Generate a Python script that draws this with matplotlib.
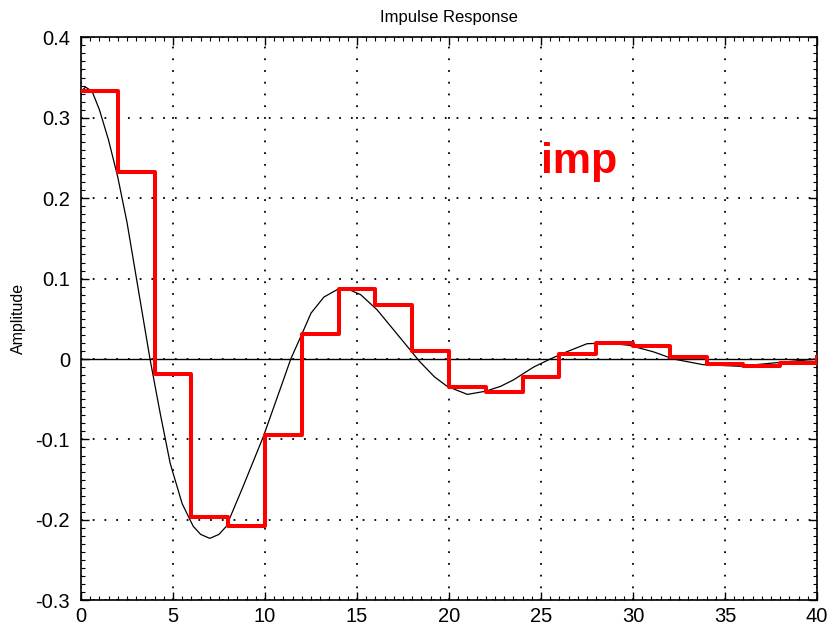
import numpy as np
import matplotlib
matplotlib.use('Agg')
import matplotlib.pyplot as plt
from matplotlib.ticker import MultipleLocator

plt.rcParams['font.family'] = ['Liberation Sans', 'DejaVu Sans']

# continuous response (black curve)
t_cont = [0, 0.25, 0.6, 1.0, 1.5, 2.0, 2.5, 3.0, 3.5, 3.75, 4.3, 4.85, 5.5, 6.1, 6.5,
          7.0, 7.5, 7.9, 8.8, 9.9, 10.8, 11.4, 12.1, 12.5, 13.2, 13.9, 14.4, 15.2,
          16.1, 17.0, 17.9, 18.4, 19.2, 19.9, 21.0, 22.0, 22.8, 23.5, 24.6, 25.5,
          26.4, 27.5, 28.6, 29.8, 31.1, 32.2, 33.8, 35.8, 37.6, 40]
y_cont = [0.333, 0.338, 0.333, 0.310, 0.272, 0.226, 0.170, 0.102, 0.034, 0.0,
          -0.067, -0.130, -0.180, -0.208, -0.218, -0.223, -0.218, -0.208, -0.159,
          -0.097, -0.039, 0.0, 0.036, 0.057, 0.077, 0.086, 0.088, 0.080, 0.061,
          0.036, 0.011, -0.003, -0.022, -0.034, -0.044, -0.040, -0.034, -0.026,
          -0.010, 0.0, 0.009, 0.019, 0.020, 0.017, 0.009, 0.0, -0.007, -0.009,
          -0.005, 0.0]

# sampled response (red staircase), sample period 2
t_samp = list(range(0, 42, 2))
y_samp = [0.333, 0.232, -0.019, -0.197, -0.207, -0.095, 0.031, 0.087, 0.067, 0.010,
          -0.035, -0.041, -0.022, 0.006, 0.020, 0.016, 0.003, -0.006, -0.009, -0.005,
          0.002]

x_ticks = [0, 5, 10, 15, 20, 25, 30, 35, 40]
y_ticks = [-0.3, -0.2, -0.1, 0, 0.1, 0.2, 0.3, 0.4]
y_labels = ['-0.3', '-0.2', '-0.1', '0', '0.1', '0.2', '0.3', '0.4']

fig = plt.figure(figsize=(8.33, 6.28), dpi=100)
ax = fig.add_axes([81 / 833, 27.7 / 628, 736 / 833, 563 / 628])

ax.axhline(0, color='black', lw=1.0, zorder=1)
ax.plot(t_cont, y_cont, color='black', lw=0.9, zorder=2)
ax.step(t_samp, y_samp, where='post', color='#ff0000', lw=2.9, zorder=3)

ax.set_xlim(0, 40)
ax.set_ylim(-0.3, 0.4)
ax.set_xticks(x_ticks)
ax.set_xticklabels([str(v) for v in x_ticks])
ax.set_yticks(y_ticks)
ax.set_yticklabels(y_labels)
ax.xaxis.set_minor_locator(MultipleLocator(0.5))
ax.yaxis.set_minor_locator(MultipleLocator(0.01))
ax.tick_params(which='both', direction='in', top=True, right=True, colors='black')
ax.tick_params(which='major', length=6, width=1, labelsize=14.5)
ax.tick_params(axis='y', which='major', pad=8)
ax.tick_params(axis='x', which='major', pad=5)
ax.tick_params(which='minor', length=3, width=0.8)

ax.grid(True, which='major', color='black', linestyle=(0, (1, 5.5)), linewidth=1.3)
for s in ax.spines.values():
    s.set_color('black')
    s.set_linewidth(1.2)

ax.set_title('Impulse Response', fontsize=12, pad=11)
ax.set_ylabel('Amplitude', fontsize=11.5, labelpad=7)

ax.text(25.0, 0.231, 'imp', color='#ff0000', fontsize=31, fontweight='bold',
        ha='left', va='baseline')

fig.savefig('out.png', dpi=100)
